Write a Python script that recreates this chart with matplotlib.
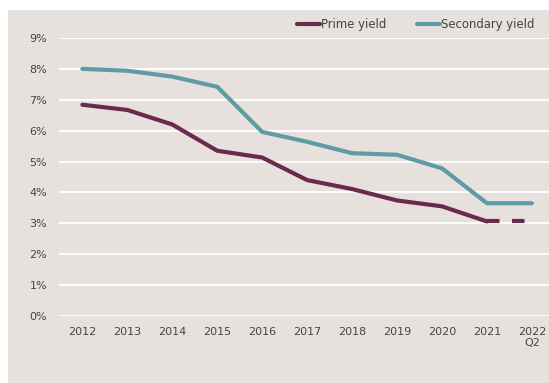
import matplotlib
matplotlib.use('Agg')
import matplotlib.pyplot as plt
from matplotlib.patches import Rectangle

years = ['2012', '2013', '2014', '2015', '2016', '2017', '2018', '2019', '2020', '2021', '2022\nQ2']
prime = [6.84, 6.67, 6.20, 5.35, 5.13, 4.40, 4.11, 3.74, 3.55, 3.06, 3.06]
secondary = [8.00, 7.94, 7.75, 7.42, 5.96, 5.64, 5.27, 5.22, 4.78, 3.65, 3.65]

bg = '#e7e1dd'
prime_col = '#6a2a4d'
sec_col = '#5e9ba3'
txt = '#444444'

fig = plt.figure(figsize=(5.49, 3.83), dpi=100)
fig.patch.set_facecolor('white')
fig.patches.append(Rectangle((8/549, 0), 1, 1 - 10/383, transform=fig.transFigure,
                             facecolor=bg, edgecolor='none', zorder=-10))

ax = fig.add_axes([59/549, 1 - 316/383, 1 - 59/549, (316 - 38)/383])
ax.patch.set_alpha(0)

x = list(range(len(years)))
# prime yield: solid to 2021, dashed to latest quarter
ax.plot(x[:-1], prime[:-1], color=prime_col, lw=3, solid_capstyle='round',
        solid_joinstyle='round', label='Prime yield', zorder=3)
ax.plot(x[-2:], prime[-2:], color=prime_col, lw=3, dashes=(3.0, 3.0),
        dash_capstyle='butt', zorder=3)
ax.plot(x, secondary, color=sec_col, lw=3, solid_capstyle='round',
        solid_joinstyle='round', label='Secondary yield', zorder=3)

ax.set_xlim(-0.52, 10.38)
ax.set_ylim(0, 9)
ax.set_yticks(range(10))
ax.set_yticklabels([f'{i}%' for i in range(10)])
ax.set_xticks(x)
ax.set_xticklabels(years, linespacing=1.1)
ax.grid(axis='y', color='white', lw=1.3, zorder=1)
ax.set_axisbelow(True)
ax.tick_params(length=0, labelsize=8, colors=txt, pad=8)
ax.tick_params(axis='y', pad=8.5)
for s in ax.spines.values():
    s.set_visible(False)

leg = ax.legend(loc='lower right', bbox_to_anchor=(0.985, 1.0), ncol=2, frameon=False,
                fontsize=8.4, handlelength=2.0, handletextpad=0.1, columnspacing=2.6,
                borderaxespad=0.2)
for t in leg.get_texts():
    t.set_color(txt)

fig.savefig('out.png', dpi=100)
